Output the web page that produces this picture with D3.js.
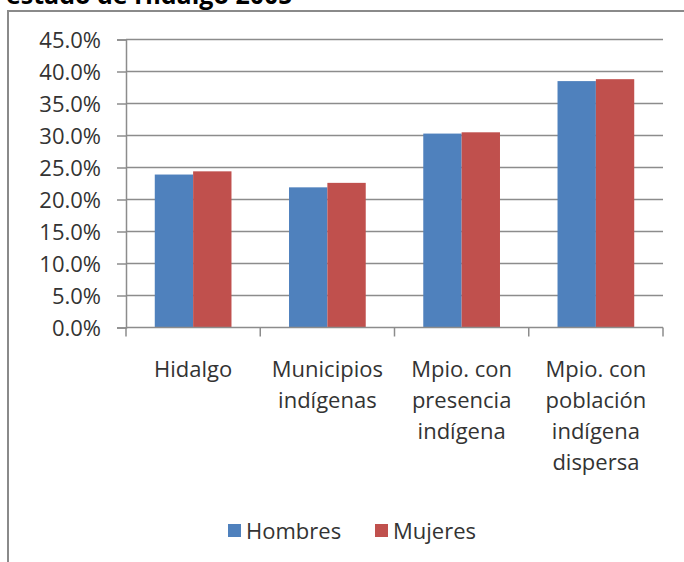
<!DOCTYPE html>
<html>
<head>
<meta charset="utf-8">
<script src="https://cdn.jsdelivr.net/npm/d3@7"></script>
<style>
  body { margin: 0; background: #fff; }
  text { font-family: "Open Sans", sans-serif; fill: #333; }
</style>
</head>
<body>
<script>
let width = 684
let height = 562

// data
let categories = [
  ['Hidalgo'],
  ['Municipios', 'indígenas'],
  ['Mpio. con', 'presencia', 'indígena'],
  ['Mpio. con', 'población', 'indígena', 'dispersa']
]
let seriesNames = ['Hombres', 'Mujeres']
let hombres = [23.9, 21.9, 30.3, 38.5]
let mujeres = [24.4, 22.6, 30.5, 38.8]
let yTicks = [0, 5, 10, 15, 20, 25, 30, 35, 40, 45]
let colors = ['#4F81BD', '#C0504D']

let svg = d3.select('body').append('svg')
  .attr('width', width)
  .attr('height', height)

// title from the page above, cut by the top edge as in the reference
svg.append('text')
  .attr('x', 6)
  .attr('y', 4)
  .style('font-size', '25px')
  .style('font-weight', 'bold')
  .style('fill', '#000')
  .text('estado de Hidalgo 2005')

// chart frame
svg.append('rect')
  .attr('x', 8)
  .attr('y', 11)
  .attr('width', 700)
  .attr('height', 600)
  .attr('fill', '#fff')
  .attr('stroke', '#8a8a8a')
  .attr('stroke-width', 2)

let plotLeft = 126, plotRight = 663, plotTop = 39.5, plotBottom = 327.5

let x = d3.scaleBand()
  .domain(d3.range(categories.length))
  .range([plotLeft, plotRight])
  .paddingInner(1.5 / 3.5)
  .paddingOuter(0.75 / 3.5)

let xs = d3.scaleBand()
  .domain(seriesNames)
  .range([0, x.bandwidth()])

let y = d3.scaleLinear()
  .domain([0, 45])
  .range([plotBottom, plotTop])

// gridlines
svg.append('g')
  .selectAll('line')
  .data(yTicks.slice(1))
  .join('line')
  .attr('x1', plotLeft)
  .attr('x2', plotRight)
  .attr('y1', d => y(d))
  .attr('y2', d => y(d))
  .style('stroke', '#8c8c8c')
  .style('stroke-width', 1.5)

// bars
let rows = categories.map((c, i) => ({ i: i, vals: [hombres[i], mujeres[i]] }))
let groups = svg.append('g').selectAll('g')
  .data(rows)
  .join('g')
  .attr('transform', d => 'translate(' + x(d.i) + ',0)')

groups.selectAll('rect')
  .data(d => d.vals.map((v, k) => ({ name: seriesNames[k], v: v, k: k })))
  .join('rect')
  .attr('x', d => xs(d.name))
  .attr('width', xs.bandwidth())
  .attr('y', d => y(d.v))
  .attr('height', d => plotBottom - y(d.v))
  .attr('fill', d => colors[d.k])

// y axis
let yAxis = svg.append('g')
  .attr('transform', 'translate(' + plotLeft + ',0)')
  .call(d3.axisLeft(y).tickValues(yTicks).tickSize(9).tickPadding(16)
    .tickFormat(d => d.toFixed(1) + '%'))
yAxis.select('.domain').style('stroke', '#8c8c8c').style('stroke-width', 1.5)
yAxis.selectAll('line').style('stroke', '#8c8c8c').style('stroke-width', 1.5)
yAxis.selectAll('text')
  .style('font-size', '22px')
  .attr('dy', '0.36em')
  .style('fill', '#333')

// x axis line and category separators
let step = x.step()
svg.append('line')
  .attr('x1', plotLeft).attr('x2', plotRight)
  .attr('y1', plotBottom).attr('y2', plotBottom)
  .style('stroke', '#8c8c8c').style('stroke-width', 1.5)

svg.append('g').selectAll('line')
  .data(d3.range(categories.length + 1))
  .join('line')
  .attr('x1', d => plotLeft + d * step)
  .attr('x2', d => plotLeft + d * step)
  .attr('y1', plotBottom)
  .attr('y2', plotBottom + 9)
  .style('stroke', '#8c8c8c').style('stroke-width', 1.5)

// category labels
let labels = svg.append('g').selectAll('text')
  .data(categories)
  .join('text')
  .attr('text-anchor', 'middle')
  .style('font-size', '22px')
  .attr('transform', (d, i) => 'translate(' + (x(i) + x.bandwidth() / 2) + ',377)')

labels.selectAll('tspan')
  .data(d => d)
  .join('tspan')
  .attr('x', 0)
  .attr('y', (d, j) => j * 31)
  .text(d => d)

// legend
let legendX = [228, 375]
let legend = svg.append('g').selectAll('g')
  .data(seriesNames)
  .join('g')
  .attr('transform', (d, i) => 'translate(' + legendX[i] + ',524)')

legend.append('rect')
  .attr('width', 13)
  .attr('height', 13)
  .attr('fill', (d, i) => colors[i])

legend.append('text')
  .attr('x', 18)
  .attr('y', 15)
  .style('font-size', '22px')
  .text(d => d)
</script>
</body>
</html>
